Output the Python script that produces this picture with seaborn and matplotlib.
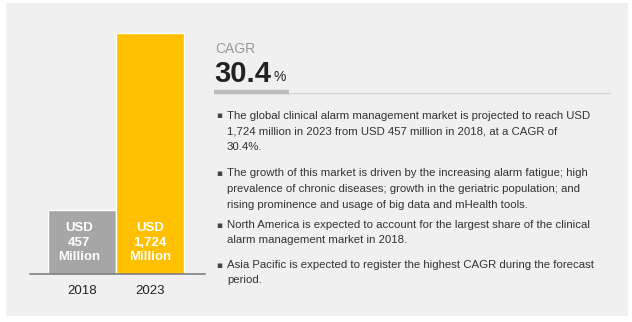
import matplotlib
matplotlib.use("Agg")
import matplotlib.pyplot as plt
import seaborn as sns
import pandas as pd
from matplotlib.patches import Rectangle
from matplotlib.lines import Line2D

years = ["2018", "2023"]
values = [457, 1724]
bar_labels = ["USD\n457\nMillion", "USD\n1,724\nMillion"]
bar_colors = ["#a6a6a6", "#ffc000"]
cagr_value = "30.4"
bullets = [
    "The global clinical alarm management market is projected to reach USD\n1,724 million in 2023 from USD 457 million in 2018, at a CAGR of\n30.4%.",
    "The growth of this market is driven by the increasing alarm fatigue; high\nprevalence of chronic diseases; growth in the geriatric population; and\nrising prominence and usage of big data and mHealth tools.",
    "North America is expected to account for the largest share of the clinical\nalarm management market in 2018.",
    "Asia Pacific is expected to register the highest CAGR during the forecast\nperiod.",
]

sns.set_style("white")
plt.rcParams["font.family"] = ["Liberation Sans Narrow", "Liberation Sans", "DejaVu Sans"]

W, H = 632, 322
fig = plt.figure(figsize=(W / 100, H / 100), dpi=100)
fig.patch.set_facecolor("white")

def fx(x):
    return x / W

def fy(y):
    return 1 - y / H

# background panel
fig.patches.append(Rectangle((fx(6), fy(316)), fx(622), (316 - 3) / H,
                             transform=fig.transFigure, facecolor="#f0f0f0",
                             edgecolor="none", zorder=-10))

# bar axes: baseline y=274, top y=20; left x=30, right x=205
ax = fig.add_axes([fx(30), fy(274), fx(175), (274 - 20) / H])
ax.set_zorder(5)
ax.set_facecolor("none")
df = pd.DataFrame({"year": years, "value": values})
sns.barplot(data=df, x="year", y="value", hue="year", palette=bar_colors,
            width=1.0, ax=ax, legend=False, saturation=1)
ax.set_xlim(-0.76, 1.80)
ax.set_ylim(0, 1724 * 254 / 241)
for s in ["top", "right", "left"]:
    ax.spines[s].set_visible(False)
ax.spines["bottom"].set_color("#808080")
ax.spines["bottom"].set_linewidth(1.2)
ax.set_yticks([])
ax.set_xlabel("")
ax.set_ylabel("")
ax.tick_params(axis="x", length=0, pad=8, labelsize=9.5, labelcolor="#222222")
for i, (v, lab) in enumerate(zip(values, bar_labels)):
    ax.text(i - 0.04 if i == 0 else i, 457 * 0.49, lab, ha="center", va="center",
            color="white", fontsize=9.5, linespacing=1.3, fontweight="semibold")

# CAGR block
fig.text(fx(215), fy(49), "CAGR", fontsize=10, color="#9a9a9a", va="center", ha="left")
fig.text(fx(214), fy(74), cagr_value, fontsize=21, color="#222222",
         va="center", ha="left", fontweight="bold")
fig.text(fx(273), fy(77), "%", fontsize=10, color="#222222", va="center", ha="left")

fig.add_artist(Line2D([fx(214), fx(610)], [fy(92.5), fy(92.5)], transform=fig.transFigure,
                      color="#d6d6d6", lw=1.0))
fig.add_artist(Line2D([fx(214), fx(289)], [fy(92), fy(92)], transform=fig.transFigure,
                      color="#bdbdbd", lw=3.2, solid_capstyle="butt"))

# bullets
centers = [116, 174, 225, 265]
for y, txt in zip(centers, bullets):
    fig.text(fx(216), fy(y), "\u25aa", fontsize=6.5, color="#444444", va="center", ha="left",
             family="DejaVu Sans")
    fig.text(fx(227), fy(y - 5.5), txt, fontsize=8.2, color="#333333", va="top", ha="left",
             linespacing=1.72)

fig.savefig("out.png", dpi=100, facecolor="white")
